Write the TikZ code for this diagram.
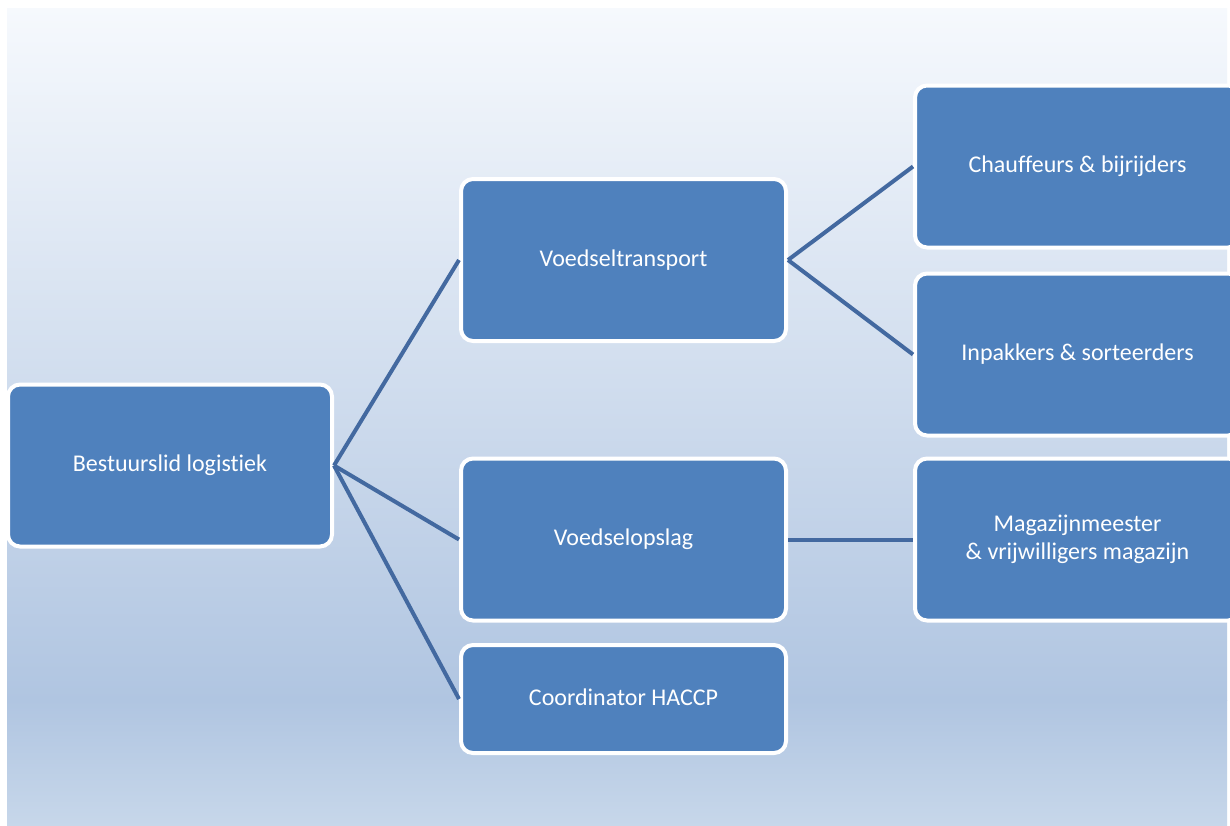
\documentclass[tikz,border=0pt]{standalone}
\usepackage{fontspec}
\setmainfont{Carlito}[Ligatures=NoCommon]
\definecolor{boxfill}{HTML}{4F81BD}
\definecolor{linkcol}{HTML}{4369A0}
\definecolor{bgtop}{HTML}{F6F9FD}
\definecolor{bgmid}{HTML}{B0C5E1}
\definecolor{bgbot}{HTML}{C7D7EA}
\begin{document}
\begin{tikzpicture}[x=0.75pt,y=-0.75pt,
  orgbox/.style={draw=white,line width=3pt,fill=boxfill,rounded corners=9pt,
    minimum width=243.75pt,minimum height=121.5pt,text=white,align=center,
    font=\fontsize{18}{21}\selectfont,inner sep=0pt},
  link/.style={draw=linkcol,line width=3pt}]
\useasboundingbox (0,0) rectangle (1230,825);
\clip (0,0) rectangle (1230,825);
\fill[white] (0,0) rectangle (1230,825);
\shade[top color=bgtop,bottom color=bgmid,draw=none] (7,8) rectangle (1227,700);
\shade[top color=bgmid,bottom color=bgbot,draw=none] (7,700) rectangle (1227,826);
\node[orgbox,minimum width=243pt] (root) at (170,465.5) {Bestuurslid logistiek};
\node[orgbox] (trans) at (623.5,260) {Voedseltransport};
\node[orgbox] (opsl) at (623.5,539.5) {Voedselopslag};
\node[orgbox,minimum height=81pt,text depth=3pt] (haccp) at (623.5,699) {Coordinator HACCP};
\node[orgbox] (chauf) at (1077.5,166.5) {Chauffeurs \& bijrijders};
\node[orgbox] (inpak) at (1077.5,354.5) {Inpakkers \& sorteerders};
\node[orgbox] (magaz) at (1077.5,539.5) {Magazijnmeester\\\& vrijwilligers magazijn};
\draw[link] (root.east) -- (trans.west);
\draw[link] (root.east) -- (opsl.west);
\draw[link] (root.east) -- (haccp.west);
\draw[link] (trans.east) -- (chauf.west);
\draw[link] (trans.east) -- (inpak.west);
\draw[link] (opsl.east) -- (magaz.west);
\end{tikzpicture}
\end{document}
